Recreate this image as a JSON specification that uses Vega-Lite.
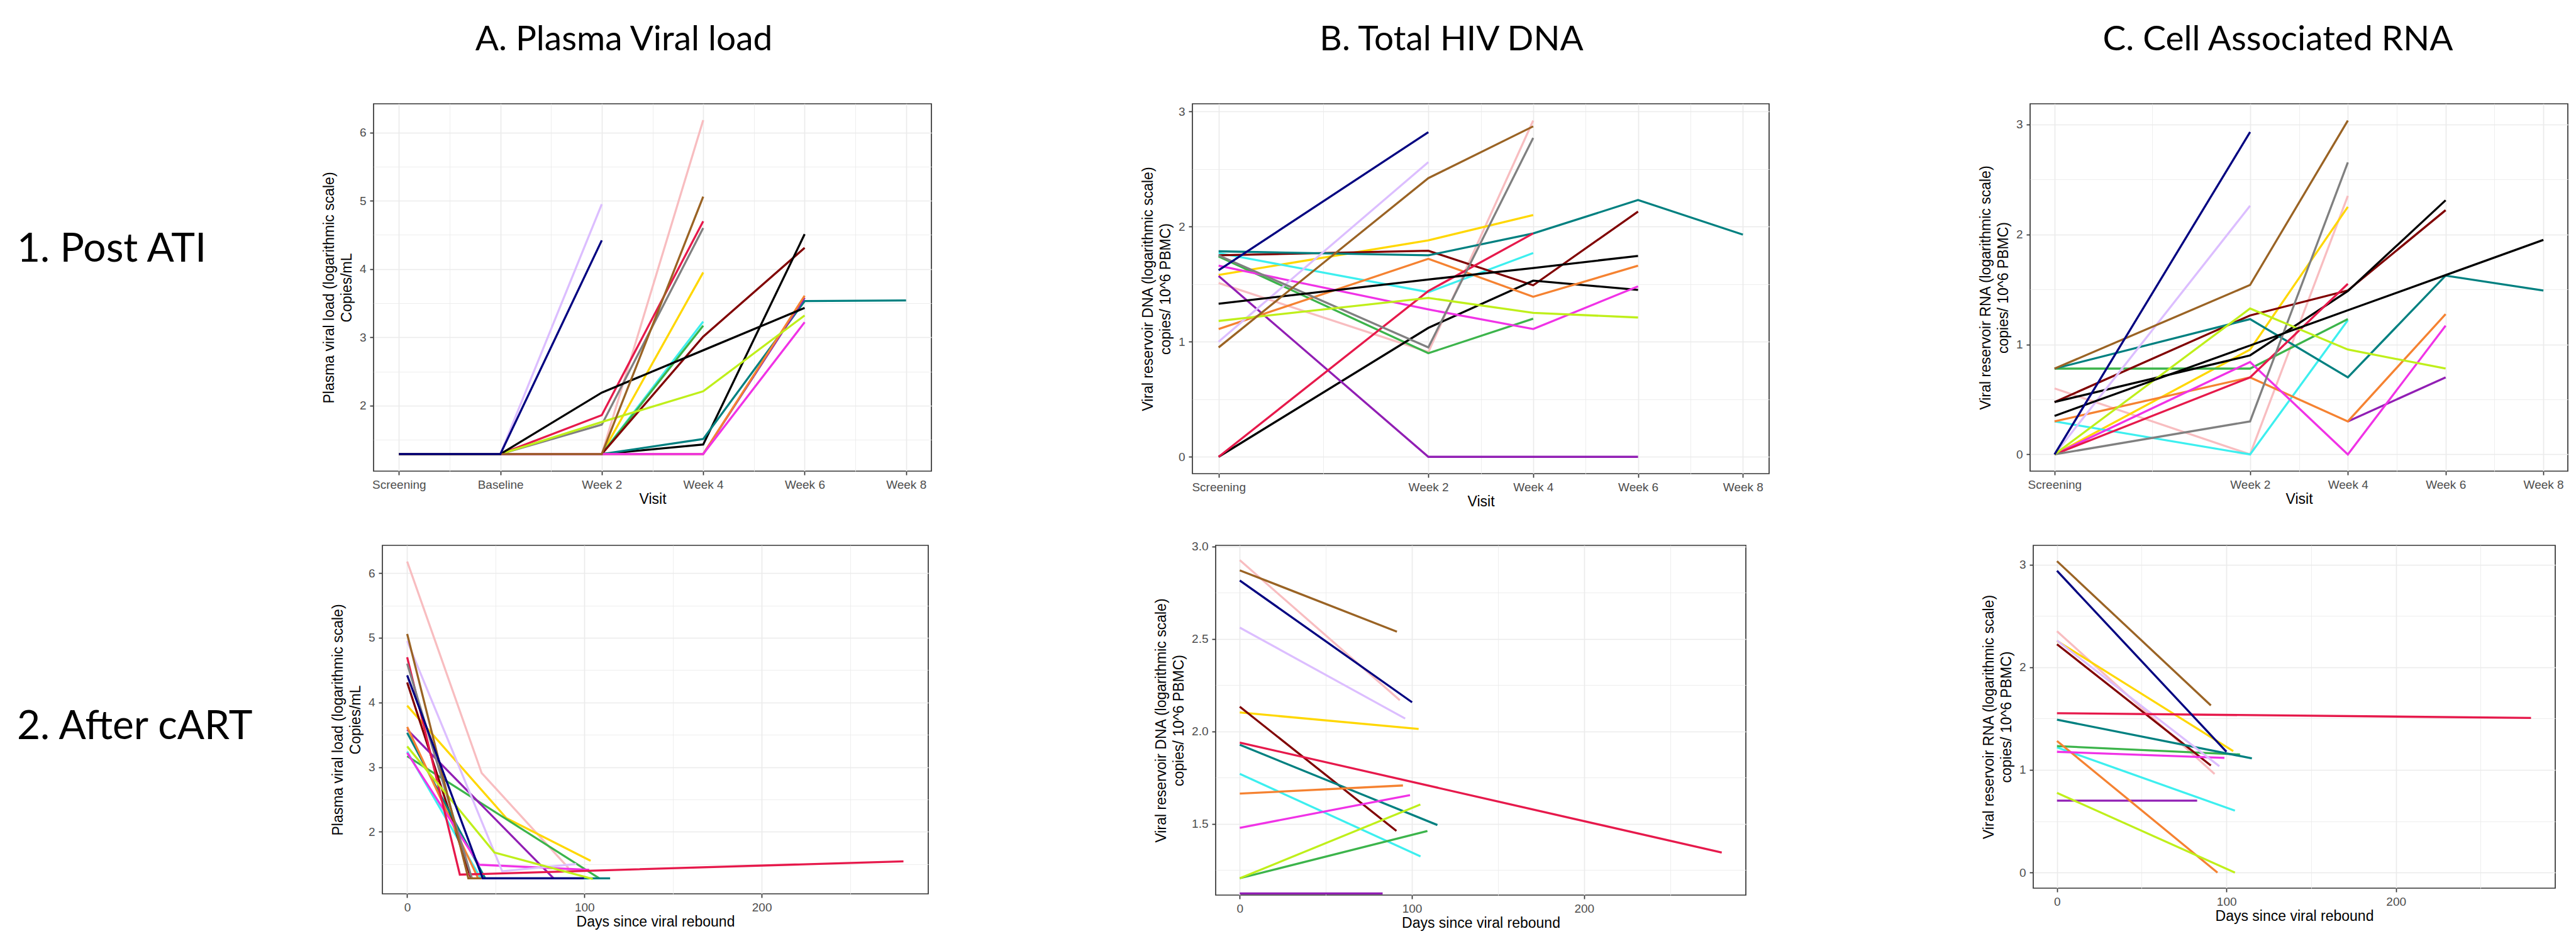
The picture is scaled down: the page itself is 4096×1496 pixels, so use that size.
{
  "$schema": "https://vega.github.io/schema/vega-lite/v6.json",
  "background": "white",
  "padding": {"left": 27, "top": 35, "right": 4, "bottom": 4},
  "config": {
    "view": {"stroke": "#333333", "strokeWidth": 1.7},
    "line": {"strokeWidth": 3.3},
    "title": {"font": "Lato", "fontSize": 55, "fontWeight": "normal", "color": "#000000", "anchor": "middle", "frame": "group", "offset": 73, "baseline": "alphabetic"},
    "axis": {"domain": false, "gridColor": "#EBEBEB", "tickColor": "#333333", "tickSize": 6, "tickWidth": 1.7, "labelFont": "Liberation Sans", "labelFontSize": 19, "labelColor": "#4D4D4D", "labelPadding": 6, "titleFont": "Liberation Sans", "titleFontSize": 23, "titleFontWeight": "normal", "titleColor": "#000000", "titleLineHeight": 28, "labelOverlap": false, "labelFlush": false},
    "axisX": {"titlePadding": 2},
    "axisY": {"titlePadding": 8}
  },
  "data": {"values": [
    {"p":"A1","id":"p01","x":-2,"y":1.29},{"p":"A1","id":"p01","x":0,"y":1.29},{"p":"A1","id":"p01","x":2,"y":1.29},{"p":"A1","id":"p01","x":4,"y":6.18},
    {"p":"A1","id":"p02","x":-2,"y":1.29},{"p":"A1","id":"p02","x":0,"y":1.29},{"p":"A1","id":"p02","x":2,"y":1.29},{"p":"A1","id":"p02","x":4,"y":3.95},
    {"p":"A1","id":"p03","x":-2,"y":1.29},{"p":"A1","id":"p03","x":0,"y":1.29},{"p":"A1","id":"p03","x":2,"y":1.29},{"p":"A1","id":"p03","x":4,"y":3.23},
    {"p":"A1","id":"p04","x":-2,"y":1.29},{"p":"A1","id":"p04","x":0,"y":1.29},{"p":"A1","id":"p04","x":2,"y":1.29},{"p":"A1","id":"p04","x":4,"y":3.17},
    {"p":"A1","id":"p05","x":-2,"y":1.29},{"p":"A1","id":"p05","x":0,"y":1.29},{"p":"A1","id":"p05","x":2,"y":1.29},{"p":"A1","id":"p05","x":4,"y":3.01},{"p":"A1","id":"p05","x":6,"y":4.31},
    {"p":"A1","id":"p06","x":-2,"y":1.29},{"p":"A1","id":"p06","x":0,"y":1.29},{"p":"A1","id":"p06","x":2,"y":1.29},{"p":"A1","id":"p06","x":4,"y":1.43},{"p":"A1","id":"p06","x":6,"y":4.51},
    {"p":"A1","id":"p07","x":-2,"y":1.29},{"p":"A1","id":"p07","x":0,"y":1.29},{"p":"A1","id":"p07","x":2,"y":1.29},{"p":"A1","id":"p07","x":4,"y":1.51},{"p":"A1","id":"p07","x":6,"y":3.53},{"p":"A1","id":"p07","x":8,"y":3.54},
    {"p":"A1","id":"p08","x":-2,"y":1.29},{"p":"A1","id":"p08","x":0,"y":1.29},{"p":"A1","id":"p08","x":2,"y":1.29},{"p":"A1","id":"p08","x":4,"y":1.29},{"p":"A1","id":"p08","x":6,"y":3.58},
    {"p":"A1","id":"p09","x":-2,"y":1.29},{"p":"A1","id":"p09","x":0,"y":1.29},{"p":"A1","id":"p09","x":2,"y":1.29},{"p":"A1","id":"p09","x":4,"y":1.29},{"p":"A1","id":"p09","x":6,"y":3.61},
    {"p":"A1","id":"p10","x":-2,"y":1.29},{"p":"A1","id":"p10","x":0,"y":1.29},{"p":"A1","id":"p10","x":2,"y":1.29},{"p":"A1","id":"p10","x":4,"y":1.29},{"p":"A1","id":"p10","x":6,"y":3.22},
    {"p":"A1","id":"p11","x":-2,"y":1.29},{"p":"A1","id":"p11","x":0,"y":1.29},{"p":"A1","id":"p11","x":2,"y":4.95},
    {"p":"A1","id":"p12","x":-2,"y":1.29},{"p":"A1","id":"p12","x":0,"y":1.29},{"p":"A1","id":"p12","x":2,"y":1.86},{"p":"A1","id":"p12","x":4,"y":4.70},
    {"p":"A1","id":"p13","x":-2,"y":1.29},{"p":"A1","id":"p13","x":0,"y":1.29},{"p":"A1","id":"p13","x":2,"y":1.72},{"p":"A1","id":"p13","x":4,"y":4.60},
    {"p":"A1","id":"p14","x":-2,"y":1.29},{"p":"A1","id":"p14","x":0,"y":1.29},{"p":"A1","id":"p14","x":2,"y":1.76},{"p":"A1","id":"p14","x":4,"y":2.21},{"p":"A1","id":"p14","x":6,"y":3.32},
    {"p":"A1","id":"p15","x":-2,"y":1.29},{"p":"A1","id":"p15","x":0,"y":1.29},{"p":"A1","id":"p15","x":2,"y":2.19},{"p":"A1","id":"p15","x":4,"y":2.81},{"p":"A1","id":"p15","x":6,"y":3.43},
    {"p":"A1","id":"p16","x":-2,"y":1.29},{"p":"A1","id":"p16","x":0,"y":1.29},{"p":"A1","id":"p16","x":2,"y":1.29},{"p":"A1","id":"p16","x":4,"y":5.06},
    {"p":"A1","id":"p17","x":-2,"y":1.29},{"p":"A1","id":"p17","x":0,"y":1.29},{"p":"A1","id":"p17","x":2,"y":4.42},

    {"p":"B1","id":"p01","x":-2,"y":1.51},{"p":"B1","id":"p01","x":2,"y":0.91},{"p":"B1","id":"p01","x":4,"y":2.92},
    {"p":"B1","id":"p02","x":-2,"y":1.58},{"p":"B1","id":"p02","x":2,"y":1.88},{"p":"B1","id":"p02","x":4,"y":2.10},
    {"p":"B1","id":"p03","x":-2,"y":1.77},{"p":"B1","id":"p03","x":2,"y":1.43},{"p":"B1","id":"p03","x":4,"y":1.77},
    {"p":"B1","id":"p04","x":-2,"y":1.74},{"p":"B1","id":"p04","x":2,"y":0.90},{"p":"B1","id":"p04","x":4,"y":1.20},
    {"p":"B1","id":"p05","x":-2,"y":1.75},{"p":"B1","id":"p05","x":2,"y":1.79},{"p":"B1","id":"p05","x":4,"y":1.49},{"p":"B1","id":"p05","x":6,"y":2.13},
    {"p":"B1","id":"p06","x":-2,"y":0},{"p":"B1","id":"p06","x":2,"y":1.12},{"p":"B1","id":"p06","x":4,"y":1.53},{"p":"B1","id":"p06","x":6,"y":1.45},
    {"p":"B1","id":"p07","x":-2,"y":1.785},{"p":"B1","id":"p07","x":2,"y":1.75},{"p":"B1","id":"p07","x":4,"y":1.94},{"p":"B1","id":"p07","x":6,"y":2.23},{"p":"B1","id":"p07","x":8,"y":1.93},
    {"p":"B1","id":"p08","x":-2,"y":1.57},{"p":"B1","id":"p08","x":2,"y":0},{"p":"B1","id":"p08","x":4,"y":0},{"p":"B1","id":"p08","x":6,"y":0},
    {"p":"B1","id":"p09","x":-2,"y":1.11},{"p":"B1","id":"p09","x":2,"y":1.72},{"p":"B1","id":"p09","x":4,"y":1.39},{"p":"B1","id":"p09","x":6,"y":1.66},
    {"p":"B1","id":"p10","x":-2,"y":1.66},{"p":"B1","id":"p10","x":2,"y":1.28},{"p":"B1","id":"p10","x":4,"y":1.11},{"p":"B1","id":"p10","x":6,"y":1.48},
    {"p":"B1","id":"p11","x":-2,"y":1.00},{"p":"B1","id":"p11","x":2,"y":2.56},
    {"p":"B1","id":"p12","x":-2,"y":0},{"p":"B1","id":"p12","x":2,"y":1.44},{"p":"B1","id":"p12","x":4,"y":1.94},
    {"p":"B1","id":"p13","x":-2,"y":1.75},{"p":"B1","id":"p13","x":2,"y":0.95},{"p":"B1","id":"p13","x":4,"y":2.77},
    {"p":"B1","id":"p14","x":-2,"y":1.18},{"p":"B1","id":"p14","x":2,"y":1.38},{"p":"B1","id":"p14","x":4,"y":1.25},{"p":"B1","id":"p14","x":6,"y":1.21},
    {"p":"B1","id":"p15","x":-2,"y":1.33},{"p":"B1","id":"p15","x":2,"y":1.54},{"p":"B1","id":"p15","x":4,"y":1.64},{"p":"B1","id":"p15","x":6,"y":1.745},
    {"p":"B1","id":"p16","x":-2,"y":0.95},{"p":"B1","id":"p16","x":2,"y":2.42},{"p":"B1","id":"p16","x":4,"y":2.87},
    {"p":"B1","id":"p17","x":-2,"y":1.62},{"p":"B1","id":"p17","x":2,"y":2.82},

    {"p":"C1","id":"p01","x":-2,"y":0.60},{"p":"C1","id":"p01","x":2,"y":0},{"p":"C1","id":"p01","x":4,"y":2.35},
    {"p":"C1","id":"p02","x":-2,"y":0},{"p":"C1","id":"p02","x":2,"y":0.953},{"p":"C1","id":"p02","x":4,"y":2.25},
    {"p":"C1","id":"p03","x":-2,"y":0.30},{"p":"C1","id":"p03","x":2,"y":0},{"p":"C1","id":"p03","x":4,"y":1.22},
    {"p":"C1","id":"p04","x":-2,"y":0.78},{"p":"C1","id":"p04","x":2,"y":0.78},{"p":"C1","id":"p04","x":4,"y":1.23},
    {"p":"C1","id":"p05","x":-2,"y":0.476},{"p":"C1","id":"p05","x":2,"y":1.263},{"p":"C1","id":"p05","x":4,"y":1.49},{"p":"C1","id":"p05","x":6,"y":2.22},
    {"p":"C1","id":"p06","x":-2,"y":0.476},{"p":"C1","id":"p06","x":2,"y":0.90},{"p":"C1","id":"p06","x":4,"y":1.485},{"p":"C1","id":"p06","x":6,"y":2.31},
    {"p":"C1","id":"p07","x":-2,"y":0.78},{"p":"C1","id":"p07","x":2,"y":1.23},{"p":"C1","id":"p07","x":4,"y":0.70},{"p":"C1","id":"p07","x":6,"y":1.625},{"p":"C1","id":"p07","x":8,"y":1.49},
    {"p":"C1","id":"p08","x":4,"y":0.30},{"p":"C1","id":"p08","x":6,"y":0.70},
    {"p":"C1","id":"p09","x":-2,"y":0.30},{"p":"C1","id":"p09","x":2,"y":0.70},{"p":"C1","id":"p09","x":4,"y":0.30},{"p":"C1","id":"p09","x":6,"y":1.275},
    {"p":"C1","id":"p10","x":-2,"y":0},{"p":"C1","id":"p10","x":2,"y":0.84},{"p":"C1","id":"p10","x":4,"y":0},{"p":"C1","id":"p10","x":6,"y":1.17},
    {"p":"C1","id":"p11","x":-2,"y":0},{"p":"C1","id":"p11","x":2,"y":2.26},
    {"p":"C1","id":"p12","x":-2,"y":0},{"p":"C1","id":"p12","x":2,"y":0.70},{"p":"C1","id":"p12","x":4,"y":1.55},
    {"p":"C1","id":"p13","x":-2,"y":0},{"p":"C1","id":"p13","x":2,"y":0.30},{"p":"C1","id":"p13","x":4,"y":2.655},
    {"p":"C1","id":"p14","x":-2,"y":0},{"p":"C1","id":"p14","x":2,"y":1.326},{"p":"C1","id":"p14","x":4,"y":0.953},{"p":"C1","id":"p14","x":6,"y":0.78},
    {"p":"C1","id":"p15","x":-2,"y":0.35},{"p":"C1","id":"p15","x":2,"y":0.99},{"p":"C1","id":"p15","x":4,"y":1.31},{"p":"C1","id":"p15","x":6,"y":1.63},{"p":"C1","id":"p15","x":8,"y":1.95},
    {"p":"C1","id":"p16","x":-2,"y":0.78},{"p":"C1","id":"p16","x":2,"y":1.54},{"p":"C1","id":"p16","x":4,"y":3.035},
    {"p":"C1","id":"p17","x":-2,"y":0},{"p":"C1","id":"p17","x":2,"y":2.93},

    {"p":"A2","id":"p01","x":0,"y":6.18},{"p":"A2","id":"p01","x":42,"y":2.91},{"p":"A2","id":"p01","x":91,"y":1.44},
    {"p":"A2","id":"p02","x":0,"y":3.95},{"p":"A2","id":"p02","x":56,"y":2.21},{"p":"A2","id":"p02","x":103.5,"y":1.55},
    {"p":"A2","id":"p03","x":0,"y":3.24},{"p":"A2","id":"p03","x":41.5,"y":1.28},
    {"p":"A2","id":"p04","x":0,"y":3.17},{"p":"A2","id":"p04","x":108.4,"y":1.28},
    {"p":"A2","id":"p05","x":0,"y":4.31},{"p":"A2","id":"p05","x":36,"y":1.28},
    {"p":"A2","id":"p07","x":0,"y":3.53},{"p":"A2","id":"p07","x":44,"y":1.28},{"p":"A2","id":"p07","x":114.5,"y":1.28},
    {"p":"A2","id":"p08","x":0,"y":3.58},{"p":"A2","id":"p08","x":82.6,"y":1.28},
    {"p":"A2","id":"p09","x":0,"y":3.62},{"p":"A2","id":"p09","x":40,"y":1.28},
    {"p":"A2","id":"p10","x":0,"y":3.22},{"p":"A2","id":"p10","x":40.6,"y":1.49},{"p":"A2","id":"p10","x":102.7,"y":1.41},
    {"p":"A2","id":"p11","x":0,"y":4.95},{"p":"A2","id":"p11","x":53.6,"y":1.39},{"p":"A2","id":"p11","x":95.4,"y":1.50},
    {"p":"A2","id":"p12","x":0,"y":4.70},{"p":"A2","id":"p12","x":29.7,"y":1.337},{"p":"A2","id":"p12","x":280,"y":1.543},
    {"p":"A2","id":"p13","x":0,"y":4.60},{"p":"A2","id":"p13","x":36.5,"y":1.28},
    {"p":"A2","id":"p14","x":0,"y":3.32},{"p":"A2","id":"p14","x":49.2,"y":1.68},{"p":"A2","id":"p14","x":104.7,"y":1.27},
    {"p":"A2","id":"p16","x":0,"y":5.06},{"p":"A2","id":"p16","x":34.5,"y":1.28},{"p":"A2","id":"p16","x":42,"y":1.28},
    {"p":"A2","id":"p17","x":0,"y":4.42},{"p":"A2","id":"p17","x":42.6,"y":1.28},{"p":"A2","id":"p17","x":99.7,"y":1.28},

    {"p":"B2","id":"p01","x":0,"y":2.926},{"p":"B2","id":"p01","x":93,"y":2.168},
    {"p":"B2","id":"p02","x":0,"y":2.102},{"p":"B2","id":"p02","x":103.9,"y":2.013},
    {"p":"B2","id":"p03","x":0,"y":1.770},{"p":"B2","id":"p03","x":105,"y":1.323},
    {"p":"B2","id":"p04","x":0,"y":1.205},{"p":"B2","id":"p04","x":109,"y":1.461},
    {"p":"B2","id":"p05","x":0,"y":2.133},{"p":"B2","id":"p05","x":91,"y":1.461},
    {"p":"B2","id":"p07","x":0,"y":1.927},{"p":"B2","id":"p07","x":114.8,"y":1.493},
    {"p":"B2","id":"p08","x":0,"y":1.123},{"p":"B2","id":"p08","x":83,"y":1.123},
    {"p":"B2","id":"p09","x":0,"y":1.663},{"p":"B2","id":"p09","x":94.8,"y":1.707},
    {"p":"B2","id":"p10","x":0,"y":1.478},{"p":"B2","id":"p10","x":98.9,"y":1.655},
    {"p":"B2","id":"p11","x":0,"y":2.561},{"p":"B2","id":"p11","x":96.1,"y":2.069},
    {"p":"B2","id":"p12","x":0,"y":1.939},{"p":"B2","id":"p12","x":280,"y":1.344},
    {"p":"B2","id":"p14","x":0,"y":1.205},{"p":"B2","id":"p14","x":104.9,"y":1.604},
    {"p":"B2","id":"p16","x":0,"y":2.871},{"p":"B2","id":"p16","x":91.3,"y":2.539},
    {"p":"B2","id":"p17","x":0,"y":2.816},{"p":"B2","id":"p17","x":100.1,"y":2.157},

    {"p":"C2","id":"p01","x":0,"y":2.351},{"p":"C2","id":"p01","x":93,"y":0.96},
    {"p":"C2","id":"p02","x":0,"y":2.257},{"p":"C2","id":"p02","x":104,"y":1.183},
    {"p":"C2","id":"p03","x":0,"y":1.219},{"p":"C2","id":"p03","x":105,"y":0.603},
    {"p":"C2","id":"p04","x":0,"y":1.232},{"p":"C2","id":"p04","x":108,"y":1.150},
    {"p":"C2","id":"p05","x":0,"y":2.224},{"p":"C2","id":"p05","x":90.8,"y":1.043},
    {"p":"C2","id":"p07","x":0,"y":1.489},{"p":"C2","id":"p07","x":115,"y":1.112},
    {"p":"C2","id":"p08","x":0,"y":0.70},{"p":"C2","id":"p08","x":82.7,"y":0.70},
    {"p":"C2","id":"p09","x":0,"y":1.282},{"p":"C2","id":"p09","x":94.7,"y":0},
    {"p":"C2","id":"p10","x":0,"y":1.176},{"p":"C2","id":"p10","x":98.8,"y":1.117},
    {"p":"C2","id":"p11","x":0,"y":2.26},{"p":"C2","id":"p11","x":95.8,"y":1.036},
    {"p":"C2","id":"p12","x":0,"y":1.552},{"p":"C2","id":"p12","x":279.7,"y":1.506},
    {"p":"C2","id":"p14","x":0,"y":0.776},{"p":"C2","id":"p14","x":105,"y":0},
    {"p":"C2","id":"p16","x":0,"y":3.033},{"p":"C2","id":"p16","x":90.8,"y":1.628},
    {"p":"C2","id":"p17","x":0,"y":2.939},{"p":"C2","id":"p17","x":100,"y":1.176}
  ]},
  "spacing": 48,
  "vconcat": [
    {
      "hconcat": [
        {
          "width": 152, "height": 464,
          "view": {"stroke": null},
          "data": {"values": [{"label": "1. Post ATI"}]},
          "mark": {"type": "text", "align": "left", "baseline": "middle", "font": "Lato", "fontSize": 64, "color": "#000000"},
          "encoding": {
            "text": {"field": "label", "type": "nominal"},
            "x": {"datum": 0, "type": "quantitative", "scale": {"domain": [0, 1]}, "axis": null}
          }
        },
        {
          "width": 887, "height": 584,
          "title": {"text": "A. Plasma Viral load", "dx": -45.5},
          "transform": [{"filter": "datum.p == 'A1'"}],
          "mark": "line",
          "encoding": {
            "x": {"field": "x", "type": "quantitative", "scale": {"domain": [-2.5, 8.5], "nice": false, "zero": false},
                  "axis": {"title": "Visit", "values": [-2, -1, 0, 1, 2, 3, 4, 5, 6, 7, 8],
                           "labelExpr": "datum.value == -2 ? 'Screening' : datum.value == 0 ? 'Baseline' : datum.value % 2 == 0 ? 'Week ' + datum.value : ''",
                           "gridWidth": {"condition": {"test": "datum.value % 2 == 0", "value": 1.7}, "value": 0.85},
                           "tickOpacity": {"condition": {"test": "datum.value % 2 == 0", "value": 1}, "value": 0}}},
            "y": {"field": "y", "type": "quantitative", "scale": {"domain": [1.04, 6.42], "nice": false, "zero": false},
                  "axis": {"title": ["Plasma viral load (logarithmic scale)", "Copies/mL"], "values": [1.5, 2, 2.5, 3, 3.5, 4, 4.5, 5, 5.5, 6], "format": ".0f",
                           "labelExpr": "datum.value % 1 == 0 ? datum.label : ''",
                           "gridWidth": {"condition": {"test": "datum.value % 1 == 0", "value": 1.7}, "value": 0.85},
                           "tickOpacity": {"condition": {"test": "datum.value % 1 == 0", "value": 1}, "value": 0}}},
            "color": {"field": "id", "type": "nominal", "legend": null,
                      "scale": {"domain": ["p01","p02","p03","p04","p05","p06","p07","p08","p09","p10","p11","p12","p13","p14","p15","p16","p17"],
                                "range": ["#F8BDC0","#FFD700","#3DEFEF","#3CB44B","#800000","#000000","#008080","#911EB4","#F58231","#F032E6","#DCBEFF","#E6194B","#808080","#BFEF1A","#000000","#9A6324","#000080"]}}
          }
        },
        {
          "width": 917, "height": 588,
          "title": {"text": "B. Total HIV DNA", "dx": -46.5},
          "transform": [{"filter": "datum.p == 'B1'"}],
          "mark": "line",
          "encoding": {
            "x": {"field": "x", "type": "quantitative", "scale": {"domain": [-2.5, 8.5], "nice": false, "zero": false},
                  "axis": {"title": "Visit", "values": [-2, 0, 2, 3, 4, 5, 6, 7, 8],
                           "labelExpr": "datum.value == -2 ? 'Screening' : (datum.value > 0 && datum.value % 2 == 0) ? 'Week ' + datum.value : ''",
                           "gridWidth": {"condition": {"test": "datum.value == -2 || (datum.value > 0 && datum.value % 2 == 0)", "value": 1.7}, "value": 0.85},
                           "tickOpacity": {"condition": {"test": "datum.value == -2 || (datum.value > 0 && datum.value % 2 == 0)", "value": 1}, "value": 0}}},
            "y": {"field": "y", "type": "quantitative", "scale": {"domain": [-0.146, 3.066], "nice": false, "zero": false},
                  "axis": {"title": ["Viral reservoir DNA (logarithmic scale)", "copies/ 10^6 PBMC)"], "values": [0, 0.5, 1, 1.5, 2, 2.5, 3], "format": ".0f",
                           "labelExpr": "datum.value % 1 == 0 ? datum.label : ''",
                           "gridWidth": {"condition": {"test": "datum.value % 1 == 0", "value": 1.7}, "value": 0.85},
                           "tickOpacity": {"condition": {"test": "datum.value % 1 == 0", "value": 1}, "value": 0}}},
            "color": {"field": "id", "type": "nominal", "legend": null,
                      "scale": {"domain": ["p01","p02","p03","p04","p05","p06","p07","p08","p09","p10","p11","p12","p13","p14","p15","p16","p17"],
                                "range": ["#F8BDC0","#FFD700","#3DEFEF","#3CB44B","#800000","#000000","#008080","#911EB4","#F58231","#F032E6","#DCBEFF","#E6194B","#808080","#BFEF1A","#000000","#9A6324","#000080"]}}
          }
        },
        {
          "width": 855, "height": 584,
          "title": {"text": "C. Cell Associated RNA", "dx": -33.5},
          "transform": [{"filter": "datum.p == 'C1'"}],
          "mark": "line",
          "encoding": {
            "x": {"field": "x", "type": "quantitative", "scale": {"domain": [-2.5, 8.5], "nice": false, "zero": false},
                  "axis": {"title": "Visit", "values": [-2, 0, 2, 3, 4, 5, 6, 7, 8],
                           "labelExpr": "datum.value == -2 ? 'Screening' : (datum.value > 0 && datum.value % 2 == 0) ? 'Week ' + datum.value : ''",
                           "gridWidth": {"condition": {"test": "datum.value == -2 || (datum.value > 0 && datum.value % 2 == 0)", "value": 1.7}, "value": 0.85},
                           "tickOpacity": {"condition": {"test": "datum.value == -2 || (datum.value > 0 && datum.value % 2 == 0)", "value": 1}, "value": 0}}},
            "y": {"field": "y", "type": "quantitative", "scale": {"domain": [-0.152, 3.187], "nice": false, "zero": false},
                  "axis": {"title": ["Viral reservoir RNA (logarithmic scale)", "copies/ 10^6 PBMC)"], "values": [0, 0.5, 1, 1.5, 2, 2.5, 3], "format": ".0f",
                           "labelExpr": "datum.value % 1 == 0 ? datum.label : ''",
                           "gridWidth": {"condition": {"test": "datum.value % 1 == 0", "value": 1.7}, "value": 0.85},
                           "tickOpacity": {"condition": {"test": "datum.value % 1 == 0", "value": 1}, "value": 0}}},
            "color": {"field": "id", "type": "nominal", "legend": null,
                      "scale": {"domain": ["p01","p02","p03","p04","p05","p06","p07","p08","p09","p10","p11","p12","p13","p14","p15","p16","p17"],
                                "range": ["#F8BDC0","#FFD700","#3DEFEF","#3CB44B","#800000","#000000","#008080","#911EB4","#F58231","#F032E6","#DCBEFF","#E6194B","#808080","#BFEF1A","#000000","#9A6324","#000080"]}}
          }
        }
      ],
      "spacing": 415,
      "bounds": "flush"
    },
    {
      "hconcat": [
        {
          "width": 124, "height": 578,
          "view": {"stroke": null},
          "data": {"values": [{"label": "2. After cART"}]},
          "mark": {"type": "text", "align": "left", "baseline": "middle", "font": "Lato", "fontSize": 64, "color": "#000000"},
          "encoding": {
            "text": {"field": "label", "type": "nominal"},
            "x": {"datum": 0, "type": "quantitative", "scale": {"domain": [0, 1]}, "axis": null}
          }
        },
        {
          "width": 868, "height": 554,
          "transform": [{"filter": "datum.p == 'A2'"}],
          "mark": "line",
          "encoding": {
            "x": {"field": "x", "type": "quantitative", "scale": {"domain": [-14, 294], "nice": false, "zero": false},
                  "axis": {"title": "Days since viral rebound", "values": [0, 50, 100, 150, 200, 250], "format": "d",
                           "labelExpr": "datum.value % 100 == 0 ? datum.label : ''",
                           "gridWidth": {"condition": {"test": "datum.value % 100 == 0", "value": 1.7}, "value": 0.85},
                           "tickOpacity": {"condition": {"test": "datum.value % 100 == 0", "value": 1}, "value": 0}}},
            "y": {"field": "y", "type": "quantitative", "scale": {"domain": [1.04, 6.43], "nice": false, "zero": false},
                  "axis": {"title": ["Plasma viral load (logarithmic scale)", "Copies/mL"], "values": [1.5, 2, 2.5, 3, 3.5, 4, 4.5, 5, 5.5, 6], "format": ".0f",
                           "labelExpr": "datum.value % 1 == 0 ? datum.label : ''",
                           "gridWidth": {"condition": {"test": "datum.value % 1 == 0", "value": 1.7}, "value": 0.85},
                           "tickOpacity": {"condition": {"test": "datum.value % 1 == 0", "value": 1}, "value": 0}}},
            "color": {"field": "id", "type": "nominal", "legend": null,
                      "scale": {"domain": ["p01","p02","p03","p04","p05","p06","p07","p08","p09","p10","p11","p12","p13","p14","p15","p16","p17"],
                                "range": ["#F8BDC0","#FFD700","#3DEFEF","#3CB44B","#800000","#000000","#008080","#911EB4","#F58231","#F032E6","#DCBEFF","#E6194B","#808080","#BFEF1A","#000000","#9A6324","#000080"]}}
          }
        },
        {
          "width": 843, "height": 556,
          "transform": [{"filter": "datum.p == 'B2'"}],
          "mark": "line",
          "encoding": {
            "x": {"field": "x", "type": "quantitative", "scale": {"domain": [-14, 294], "nice": false, "zero": false},
                  "axis": {"title": "Days since viral rebound", "values": [0, 50, 100, 150, 200, 250], "format": "d",
                           "labelExpr": "datum.value % 100 == 0 ? datum.label : ''",
                           "gridWidth": {"condition": {"test": "datum.value % 100 == 0", "value": 1.7}, "value": 0.85},
                           "tickOpacity": {"condition": {"test": "datum.value % 100 == 0", "value": 1}, "value": 0}}},
            "y": {"field": "y", "type": "quantitative", "scale": {"domain": [1.114, 3.006], "nice": false, "zero": false},
                  "axis": {"title": ["Viral reservoir DNA (logarithmic scale)", "copies/ 10^6 PBMC)"], "values": [1.25, 1.5, 1.75, 2, 2.25, 2.5, 2.75, 3],
                           "format": ".1f",
                           "labelExpr": "datum.value % 0.5 == 0 ? datum.label : ''",
                           "gridWidth": {"condition": {"test": "datum.value % 0.5 == 0", "value": 1.7}, "value": 0.85},
                           "tickOpacity": {"condition": {"test": "datum.value % 0.5 == 0", "value": 1}, "value": 0}}},
            "color": {"field": "id", "type": "nominal", "legend": null,
                      "scale": {"domain": ["p01","p02","p03","p04","p05","p06","p07","p08","p09","p10","p11","p12","p13","p14","p15","p16","p17"],
                                "range": ["#F8BDC0","#FFD700","#3DEFEF","#3CB44B","#800000","#000000","#008080","#911EB4","#F58231","#F032E6","#DCBEFF","#E6194B","#808080","#BFEF1A","#000000","#9A6324","#000080"]}}
          }
        },
        {
          "width": 830, "height": 545,
          "transform": [{"filter": "datum.p == 'C2'"}],
          "mark": "line",
          "encoding": {
            "x": {"field": "x", "type": "quantitative", "scale": {"domain": [-14, 294], "nice": false, "zero": false},
                  "axis": {"title": "Days since viral rebound", "values": [0, 50, 100, 150, 200, 250], "format": "d",
                           "labelExpr": "datum.value % 100 == 0 ? datum.label : ''",
                           "gridWidth": {"condition": {"test": "datum.value % 100 == 0", "value": 1.7}, "value": 0.85},
                           "tickOpacity": {"condition": {"test": "datum.value % 100 == 0", "value": 1}, "value": 0}}},
            "y": {"field": "y", "type": "quantitative", "scale": {"domain": [-0.152, 3.187], "nice": false, "zero": false},
                  "axis": {"title": ["Viral reservoir RNA (logarithmic scale)", "copies/ 10^6 PBMC)"], "values": [0, 0.5, 1, 1.5, 2, 2.5, 3], "format": ".0f",
                           "labelExpr": "datum.value % 1 == 0 ? datum.label : ''",
                           "gridWidth": {"condition": {"test": "datum.value % 1 == 0", "value": 1.7}, "value": 0.85},
                           "tickOpacity": {"condition": {"test": "datum.value % 1 == 0", "value": 1}, "value": 0}}},
            "color": {"field": "id", "type": "nominal", "legend": null,
                      "scale": {"domain": ["p01","p02","p03","p04","p05","p06","p07","p08","p09","p10","p11","p12","p13","p14","p15","p16","p17"],
                                "range": ["#F8BDC0","#FFD700","#3DEFEF","#3CB44B","#800000","#000000","#008080","#911EB4","#F58231","#F032E6","#DCBEFF","#E6194B","#808080","#BFEF1A","#000000","#9A6324","#000080"]}}
          }
        }
      ],
      "spacing": 457,
      "bounds": "flush"
    }
  ]
}
